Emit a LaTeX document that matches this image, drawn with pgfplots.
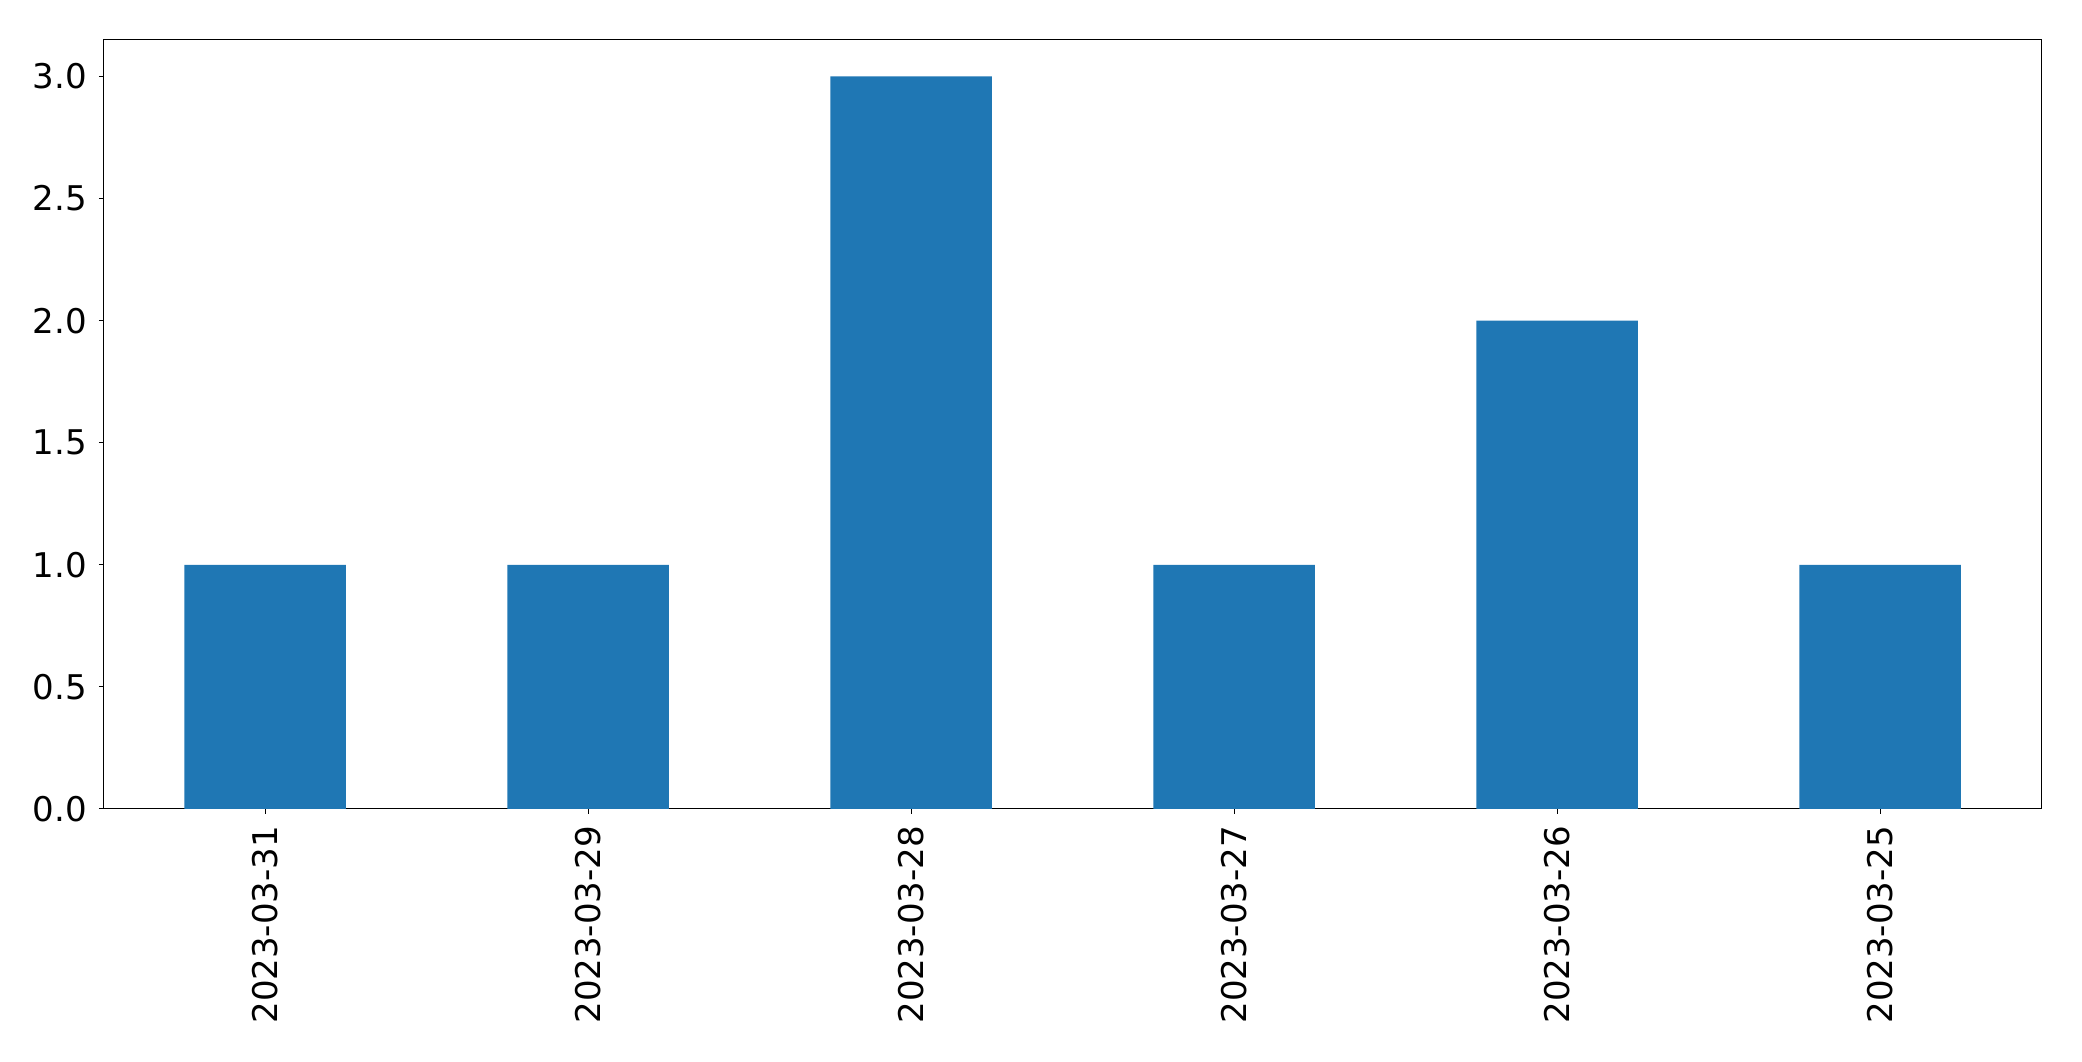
\documentclass[border=0pt]{standalone}
\usepackage{pgfplots}
\pgfplotsset{compat=1.18}
\usepackage{fontspec}
\setmainfont{DejaVu Sans}
\definecolor{mplblue}{HTML}{1F77B4}
\begin{document}
\begin{tikzpicture}
\begin{axis}[
  at={(0,0)}, anchor=south west,
  scale only axis,
  width=1395.4pt, height=553.7pt,
  xmin=-0.5, xmax=5.5, ymin=0, ymax=3.15,
  xtick={0,1,2,3,4,5},
  xticklabels={2023-03-31,2023-03-29,2023-03-28,2023-03-27,2023-03-26,2023-03-25},
  ytick={0,0.5,1,1.5,2,2.5,3},
  tick label style={font=\fontsize{24.5}{29}\selectfont},
  xticklabel style={rotate=90, anchor=east, inner sep=0pt},
  yticklabel style={anchor=east, inner sep=0pt,
    /pgf/number format/fixed, /pgf/number format/fixed zerofill,
    /pgf/number format/precision=1, /pgf/number format/assume math mode=true},
  xticklabel shift=8.5pt, yticklabel shift=8.5pt,
  tick align=outside, tick pos=left,
  major tick length=3.5pt,
  every tick/.style={black, line width=0.8pt},
  axis line style={black, line width=0.8pt},
  ybar, bar width=0.5,
]
\addplot[fill=mplblue, draw=none] coordinates {(0,1) (1,1) (2,3) (3,1) (4,2) (5,1)};
\end{axis}
\pgfresetboundingbox
\path[use as bounding box] (-74.6pt,-181.7pt) rectangle (1424.4pt,582.4pt);
\end{tikzpicture}
\end{document}
